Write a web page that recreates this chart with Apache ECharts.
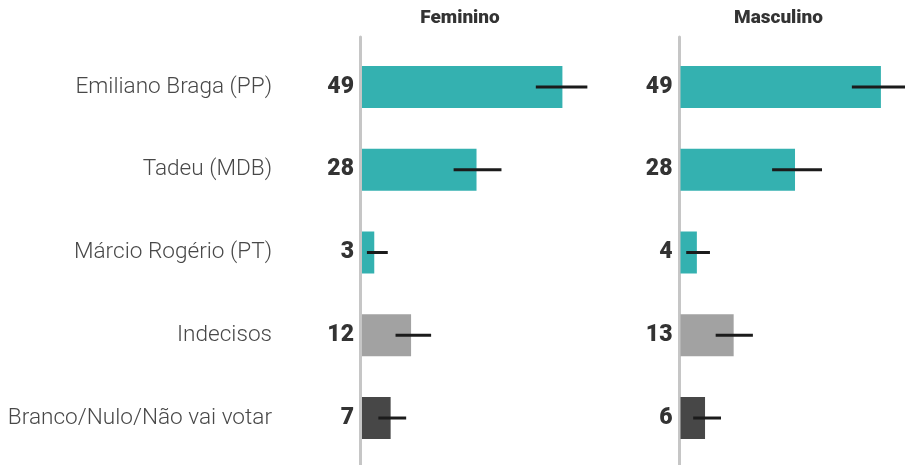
<!DOCTYPE html>
<html>
<head>
<meta charset="utf-8">
<script src="https://cdn.jsdelivr.net/npm/echarts@6/dist/echarts.min.js"></script>
<style>
  html, body { margin: 0; padding: 0; background: #fff; }
  #chart { width: 905px; height: 465px; }
</style>
</head>
<body>
<div id="chart"></div>
<script>
// categorias e valores (%)
var categorias = ['Emiliano Braga (PP)', 'Tadeu (MDB)', 'Márcio Rogério (PT)', 'Indecisos', 'Branco/Nulo/Não vai votar'];
var paineis = ['Feminino', 'Masculino'];
var feminino = [49, 28, 3, 12, 7];
var masculino = [49, 28, 4, 13, 6];
// margem de erro (limite inferior / superior)
var femMin = [42.5, 22.4, 1.2, 8.2, 4.0];
var femMax = [55.1, 34.1, 6.3, 16.9, 10.8];
var mascMin = [41.9, 22.4, 1.4, 8.6, 3.1];
var mascMax = [55.5, 34.6, 7.2, 17.7, 9.9];

var cores = ['#34b1b0', '#34b1b0', '#34b1b0', '#a2a2a2', '#474747'];

var chart = echarts.init(document.getElementById('chart'), null, { renderer: 'canvas' });

var FONT = 'Roboto';
var gridLeft = [362, 680.5];
var linhaX = [360.5, 679];

function barData(valores) {
  return valores.map(function (v, i) {
    return { value: v, itemStyle: { color: cores[i] } };
  });
}

function erroData(lo, hi) {
  return lo.map(function (l, i) {
    return [l, hi[i], i];
  });
}

function renderErro(params, api) {
  var a = api.coord([api.value(0), api.value(2)]);
  var b = api.coord([api.value(1), api.value(2)]);
  return {
    type: 'line',
    shape: { x1: a[0], y1: a[1], x2: b[0], y2: b[1] },
    style: { stroke: '#1b1b1b', lineWidth: 3 }
  };
}

var option = {
  animation: false,
  backgroundColor: '#fff',
  title: paineis.map(function (p, k) {
    return {
      text: p,
      left: gridLeft[k] + 93,
      top: 4,
      textAlign: 'center',
      textStyle: { fontFamily: FONT, fontWeight: 900, fontSize: 19, color: '#333' }
    };
  }),
  grid: [
    { left: gridLeft[0], width: 204.5, top: 45.6, bottom: 5.6 },
    { left: gridLeft[1], width: 204.5, top: 45.6, bottom: 5.6 },
    // grades só para a linha vertical do eixo
    { left: linhaX[0], width: 100, top: 37, bottom: -5 },
    { left: linhaX[1], width: 100, top: 37, bottom: -5 }
  ],
  xAxis: [0, 1, 2, 3].map(function (k) {
    return {
      type: 'value', gridIndex: k, min: 0, max: 50, show: false
    };
  }),
  yAxis: [
    {
      type: 'category', gridIndex: 0, data: categorias, inverse: true,
      axisLine: { show: false }, axisTick: { show: false },
      axisLabel: { margin: 90, fontFamily: FONT, fontWeight: 300, fontSize: 22.6, color: '#484848' }
    },
    {
      type: 'category', gridIndex: 1, data: categorias, inverse: true,
      axisLine: { show: false }, axisTick: { show: false }, axisLabel: { show: false }
    },
    {
      type: 'value', gridIndex: 2, splitLine: { show: false }, axisTick: { show: false }, axisLabel: { show: false },
      axisLine: { show: true, lineStyle: { color: '#c6c6c6', width: 3 } }
    },
    {
      type: 'value', gridIndex: 3, splitLine: { show: false }, axisTick: { show: false }, axisLabel: { show: false },
      axisLine: { show: true, lineStyle: { color: '#c6c6c6', width: 3 } }
    }
  ],
  series: [
    {
      type: 'bar', xAxisIndex: 0, yAxisIndex: 0, barWidth: 42,
      data: barData(feminino),
      label: {
        show: true, position: 'left', distance: 8,
        fontFamily: FONT, fontWeight: 900, fontSize: 23, color: '#333'
      }
    },
    {
      type: 'bar', xAxisIndex: 1, yAxisIndex: 1, barWidth: 42,
      data: barData(masculino),
      label: {
        show: true, position: 'left', distance: 8,
        fontFamily: FONT, fontWeight: 900, fontSize: 23, color: '#333'
      }
    },
    {
      type: 'custom', xAxisIndex: 0, yAxisIndex: 0, clip: false,
      renderItem: renderErro, data: erroData(femMin, femMax), z: 5
    },
    {
      type: 'custom', xAxisIndex: 1, yAxisIndex: 1, clip: false,
      renderItem: renderErro, data: erroData(mascMin, mascMax), z: 5
    }
  ]
};

chart.setOption(option);
</script>
</body>
</html>
